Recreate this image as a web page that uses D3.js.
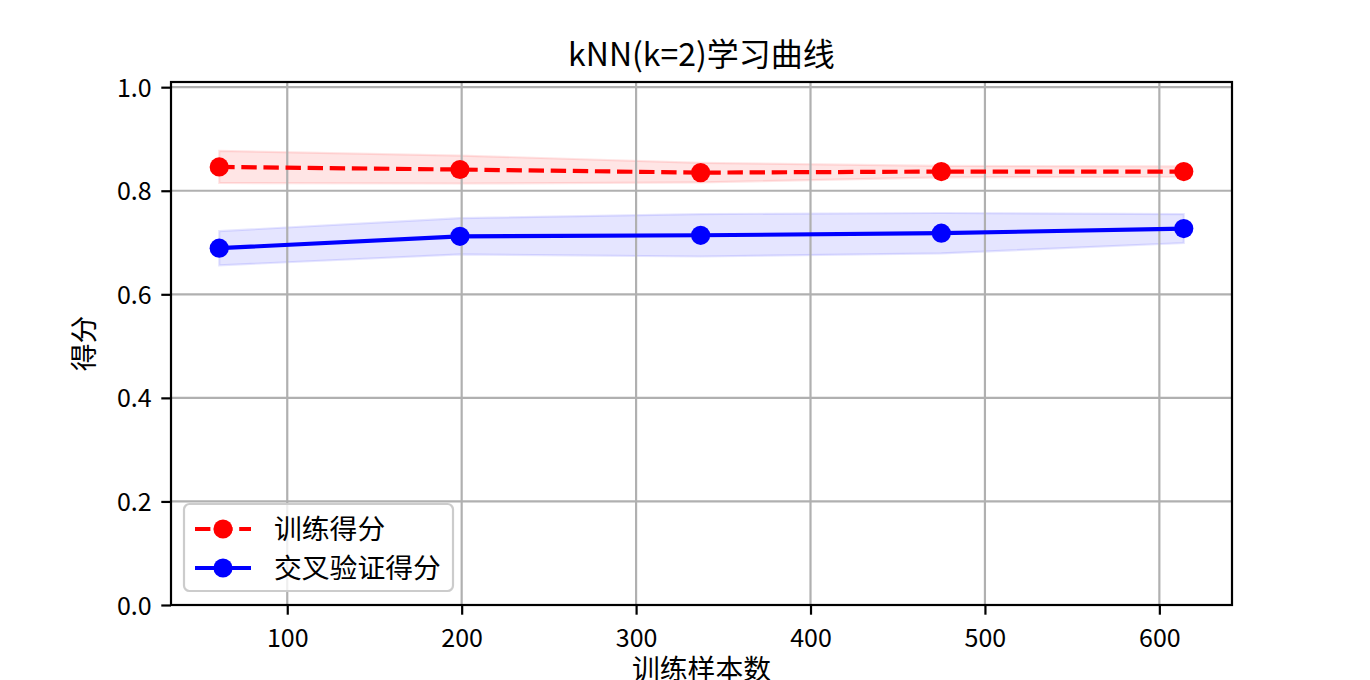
<!DOCTYPE html>
<html>
<head>
<meta charset="utf-8">
<script src="https://cdn.jsdelivr.net/npm/d3@7"></script>
<style>
  html, body { margin: 0; padding: 0; background: #fff; }
  svg { display: block; font-family: "Noto Sans CJK SC", "DejaVu Sans", sans-serif; }
</style>
</head>
<body>
<svg id="chart" width="1370" height="680"></svg>
<script>
// ---- data ----
const trainSizes = [61, 199, 337, 475, 614];
const trainMean = [0.846, 0.841, 0.835, 0.837, 0.837];
const trainStd  = [0.031, 0.027, 0.019, 0.011, 0.010];
const testMean  = [0.689, 0.712, 0.714, 0.718, 0.727];
const testStd   = [0.033, 0.035, 0.041, 0.039, 0.028];
const xTicks = [100, 200, 300, 400, 500, 600];
const yTicks = [0.0, 0.2, 0.4, 0.6, 0.8, 1.0];
const titleText = "kNN(k=2)学习曲线";
const xLabelText = "训练样本数";
const yLabelText = "得分";
const seriesNames = ["训练得分", "交叉验证得分"];

// ---- layout ----
const L = 171, R = 1232, T = 82, B = 605;
const svg = d3.select("#chart");
svg.append("rect").attr("width", 1370).attr("height", 680).attr("fill", "#fff");

const xMin = d3.min(trainSizes), xMax = d3.max(trainSizes);
const pad = (xMax - xMin) * 0.05;
const x = d3.scaleLinear().domain([xMin - pad, xMax + pad]).range([L, R]);
const y = d3.scaleLinear().domain([0, 1.01]).range([B, T]);

const tickFs = 25;
const lw = 4.2, ms = 9.6;

const series = [
  { mean: trainMean, std: trainStd, color: "#ff0000", dash: "15.4,6.7", name: seriesNames[0] },
  { mean: testMean,  std: testStd,  color: "#0000ff", dash: null,       name: seriesNames[1] }
];

// bands
series.forEach(s => {
  const pts = trainSizes.map((t, i) => ({ x: t, lo: s.mean[i] - s.std[i], hi: s.mean[i] + s.std[i] }));
  const area = d3.area().x(d => x(d.x)).y0(d => y(d.lo)).y1(d => y(d.hi));
  svg.append("path").attr("d", area(pts))
    .attr("fill", s.color).attr("fill-opacity", 0.1)
    .attr("stroke", s.color).attr("stroke-opacity", 0.1).attr("stroke-width", 2.2);
});

// grid
const grid = svg.append("g");
xTicks.forEach(t => grid.append("line").attr("x1", x(t)).attr("x2", x(t)).attr("y1", T).attr("y2", B)
  .attr("stroke", "#b0b0b0").attr("stroke-width", 2.2));
yTicks.forEach(t => grid.append("line").attr("x1", L).attr("x2", R).attr("y1", y(t)).attr("y2", y(t))
  .attr("stroke", "#b0b0b0").attr("stroke-width", 2.2));

// lines + markers
series.forEach(s => {
  const pts = trainSizes.map((t, i) => [t, s.mean[i]]);
  const line = d3.line().x(d => x(d[0])).y(d => y(d[1]));
  const p = svg.append("path").attr("d", line(pts)).attr("fill", "none")
    .attr("stroke", s.color).attr("stroke-width", lw);
  if (s.dash) p.attr("stroke-dasharray", s.dash);
  svg.selectAll(null).data(pts).enter().append("circle")
    .attr("cx", d => x(d[0])).attr("cy", d => y(d[1])).attr("r", ms).attr("fill", s.color);
});

// axes via d3
const xAxis = d3.axisBottom(x).tickValues(xTicks).tickSize(9.7).tickPadding(9.7).tickFormat(d3.format("d"));
const gx = svg.append("g").attr("transform", `translate(0,${B})`).call(xAxis);
const yAxis = d3.axisLeft(y).tickValues(yTicks).tickSize(9.7).tickPadding(9.7).tickFormat(d3.format(".1f"));
const gy = svg.append("g").attr("transform", `translate(${L},0)`).call(yAxis);
[gx, gy].forEach(g => {
  g.select(".domain").remove();
  g.selectAll(".tick line").attr("stroke", "#000").attr("stroke-width", 2.2);
  g.selectAll(".tick text").attr("fill", "#000").attr("font-size", tickFs)
    .attr("font-family", "'Noto Sans CJK SC', sans-serif");
});
gx.selectAll(".tick text").attr("dy", null).attr("y", 18.5).attr("dominant-baseline", "hanging");
gy.selectAll(".tick text").attr("dy", "0.36em");

// spines
svg.append("rect").attr("x", L).attr("y", T).attr("width", R - L).attr("height", B - T)
  .attr("fill", "none").attr("stroke", "#000").attr("stroke-width", 2.2);

// title & labels
svg.append("text").attr("x", (L + R) / 2).attr("y", 66).attr("text-anchor", "middle")
  .attr("font-size", 32).attr("fill", "#000").text(titleText);
svg.append("text").attr("x", (L + R) / 2).attr("y", 679).attr("text-anchor", "middle")
  .attr("font-size", 27.8).attr("fill", "#000").text(xLabelText);
svg.append("text").attr("transform", `translate(94,${(T + B) / 2}) rotate(-90)`).attr("text-anchor", "middle")
  .attr("font-size", 27.8).attr("fill", "#000").text(yLabelText);

// legend
const lg = svg.append("g");
lg.append("rect").attr("x", 184).attr("y", 504).attr("width", 269).attr("height", 87)
  .attr("rx", 5.5).attr("fill", "#fff").attr("fill-opacity", 0.8)
  .attr("stroke", "#cccccc").attr("stroke-width", 2.2);
const rowY = [529, 568];
series.forEach((s, i) => {
  const ln = lg.append("line").attr("x1", 195).attr("x2", 251).attr("y1", rowY[i]).attr("y2", rowY[i])
    .attr("stroke", s.color).attr("stroke-width", lw);
  if (s.dash) ln.attr("stroke-dasharray", s.dash);
  lg.append("circle").attr("cx", 223).attr("cy", rowY[i]).attr("r", ms).attr("fill", s.color);
  lg.append("text").attr("x", 274).attr("y", rowY[i]).attr("dy", "0.36em")
    .attr("font-size", 27.8).attr("fill", "#000").text(s.name);
});
</script>
</body>
</html>
